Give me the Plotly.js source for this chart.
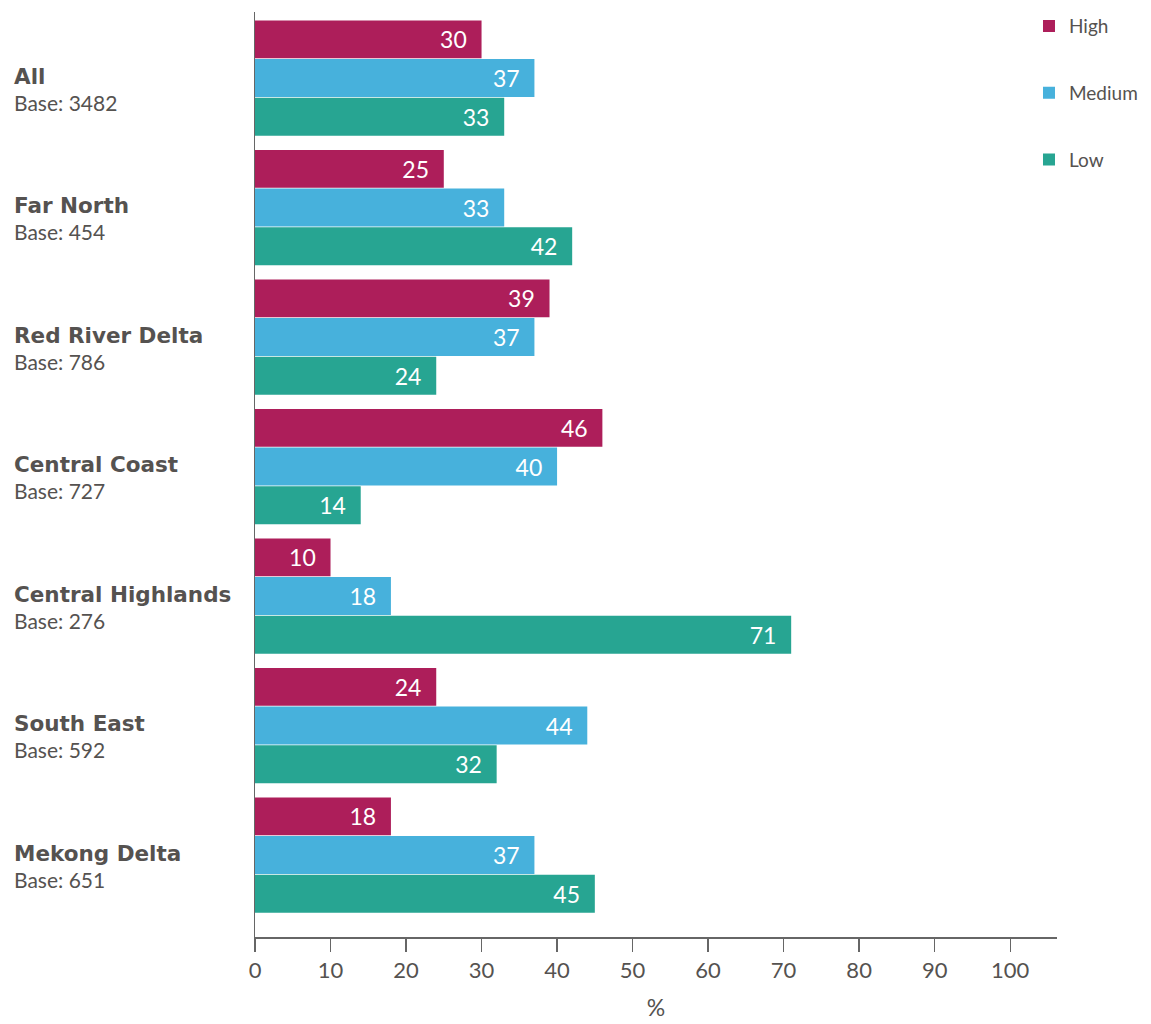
<!DOCTYPE html>
<html>
<head>
<meta charset="utf-8">
<script src="https://cdn.plot.ly/plotly-3.0.1.min.js"></script>
<style>html,body{margin:0;padding:0;background:#fff;}#chart{width:1151px;height:1024px;}</style>
</head>
<body>
<div id="chart"></div>
<script>
const categories = ["All", "Far North", "Red River Delta", "Central Coast", "Central Highlands", "South East", "Mekong Delta"];
const bases = [3482, 454, 786, 727, 276, 592, 651];
const high = [30, 25, 39, 46, 10, 24, 18];
const medium = [37, 33, 37, 40, 18, 44, 37];
const low = [33, 42, 24, 14, 71, 32, 45];
const seriesNames = ["High", "Medium", "Low"];
const colors = ["#AD1E5A", "#47B1DC", "#27A592"];
const xTicks = [0, 10, 20, 30, 40, 50, 60, 70, 80, 90, 100];

const FONT = "Lato, 'Open Sans', sans-serif";
const TXT = "#555250";

const seriesValues = [high, medium, low];
const traces = seriesValues.map((vals, i) => ({
  type: "bar",
  orientation: "h",
  name: seriesNames[i],
  legendgroup: seriesNames[i],
  x: vals,
  y: categories,
  marker: {color: colors[i], line: {width: 0}},
  text: vals.map(v => String(v) + "\u00a0\u00a0"),
  textposition: "inside",
  insidetextanchor: "end",
  textangle: 0,
  constraintext: "none",
  insidetextfont: {family: FONT, size: 23, color: "#ffffff"},
  hoverinfo: "x+name"
}));

const annotations = categories.map((c, i) => ({
  xref: "paper", yref: "y",
  x: -0.3032, y: c,
  xanchor: "left", yanchor: "middle",
  align: "left",
  yshift: -11,
  showarrow: false,
  text: "<span style='font-family:\"DejaVu Sans\";font-weight:bold;font-size:21.5px'>" + c + "</span><br><span style='font-size:21px'>Base: " + bases[i] + "</span>",
  font: {family: FONT, size: 21, color: TXT}
}));

const layout = {
  width: 1151, height: 1024,
  margin: {l: 255, r: 94, t: 12, b: 87, autoexpand: false},
  paper_bgcolor: "#ffffff", plot_bgcolor: "#ffffff",
  font: {family: FONT, color: TXT},
  barmode: "group",
  bargap: 0.104,
  bargroupgap: 0.02,
  showlegend: true,
  legend: {
    xref: "container", yref: "container",
    x: 0.894, y: 0.993, xanchor: "left", yanchor: "top",
    bgcolor: "rgba(0,0,0,0)",
    traceorder: "grouped",
    tracegroupgap: 39,
    font: {family: FONT, size: 19, color: TXT},
    itemwidth: 30
  },
  xaxis: {
    range: [0, 106.2],
    tickvals: xTicks,
    ticktext: xTicks.map(String),
    ticks: "outside", ticklen: 13, tickwidth: 1.3, tickcolor: "#666",
    showline: true, linecolor: "#666", linewidth: 1.5,
    showgrid: false, zeroline: false,
    tickfont: {family: FONT, size: 22, color: TXT},
    title: {text: "%", font: {family: FONT, size: 23, color: TXT}, standoff: 18},
    fixedrange: true
  },
  yaxis: {
    type: "category",
    range: [6.633, -0.51],
    showticklabels: false,
    ticks: "",
    showline: true, linecolor: "#666", linewidth: 1.5,
    showgrid: false, zeroline: false,
    fixedrange: true
  },
  annotations: annotations
};

Plotly.newPlot("chart", traces, layout, {displayModeBar: false, staticPlot: true});
</script>
</body>
</html>
